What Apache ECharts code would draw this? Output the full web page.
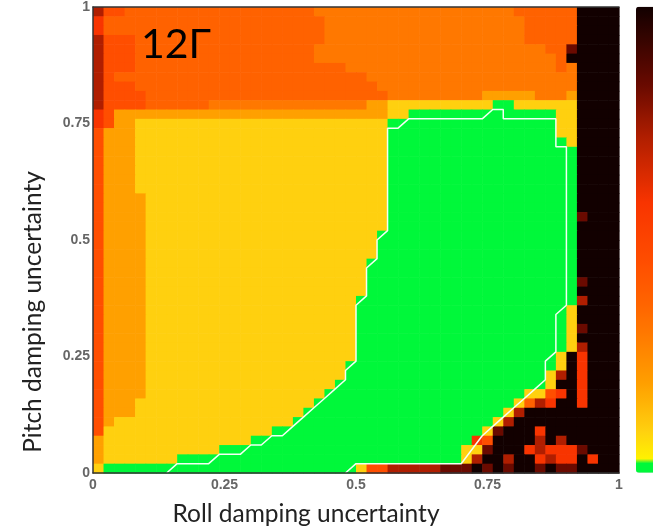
<!DOCTYPE html>
<html>
<head>
<meta charset="utf-8">
<title>12Γ roll / pitch damping uncertainty</title>
<script src="https://cdn.jsdelivr.net/npm/echarts@6/dist/echarts.min.js"></script>
<style>
  html, body { margin: 0; padding: 0; background: #fff; }
  #chart { width: 653px; height: 529px; }
</style>
</head>
<body>
<div id="chart"></div>
<script>
// tick labels of both axes
const xTicks = [0, 0.25, 0.5, 0.75, 1]
const yTicks = [0, 0.25, 0.5, 0.75, 1]
// colour levels seen in the map, value = position on the colorbar (0 green ... 1 black)
const levelCodes = ['g', 'y', 'o', 'O', 'p', 'r', 'R', 'd', 'D', 'k']
const levelValues = [0, 0.09, 0.19, 0.30, 0.37, 0.45, 0.58, 0.72, 0.83, 1]
// colorbar stops (bottom -> top)
const cmapPos = [0, 0.022, 0.03, 0.09, 0.19, 0.30, 0.37, 0.45, 0.58, 0.72, 0.83, 1]
const cmapColor = ['#00f83a', '#00f83a', '#fff200', '#ffd00f', '#ffa000', '#ff7800', '#ff6200', '#ff4e00', '#f83400', '#b01e00', '#6a0a00', '#120000']
// 50 x 50 cells, rows from pitch = 1 (top) down to 0, run-length coded per row
const gridRows = [
  'd1 r2 p18 O19 p6 k4',
  'R1 p21 O19 p5 k4',
  'R1 p21 O19 p5 k4',
  'd1 r3 p18 O19 p5 k4',
  'd1 r3 p17 O22 p2 D1 k4',
  'd1 r3 p17 O23 p1 k5',
  'd1 r3 p20 O20 p1 O1 k4',
  'd1 r1 p24 O20 k4',
  'd1 r3 p23 O19 k4',
  'd1 r4 p23 O9 o5 O3 o1 k4',
  'd1 r4 p6 O15 o2 y10 g2 y6 k4',
  'R1 r1 o26 y2 g14 y2 k4',
  'R1 r1 o2 y24 g16 y2 k4',
  'r1 o3 y24 g16 y2 k4',
  'r1 o3 y24 g17 y1 k4',
  'r1 o3 y24 g18 k4',
  'r1 o3 y24 g18 k4',
  'r1 o3 y24 g18 k4',
  'r1 o3 y24 g18 k4',
  'r1 o3 y24 g18 k4',
  'r1 o4 y23 g18 k4',
  'r1 o4 y23 g18 k4',
  'r1 o4 y23 g18 D1 k3',
  'r1 o4 y23 g18 k4',
  'r1 o4 y22 g19 k4',
  'r1 o4 y22 g19 k4',
  'r1 o4 y22 g19 k4',
  'r1 o4 y21 g20 k4',
  'r1 o4 y21 g20 k4',
  'r1 o4 y21 g20 D1 k3',
  'r1 o4 y21 g20 k4',
  'r1 o4 y20 g21 d1 k3',
  'r1 o4 y20 g20 y1 k4',
  'r1 o4 y20 g20 y1 k4',
  'r1 o4 y20 g20 y1 D1 k3',
  'r1 o4 y20 g20 y1 k4',
  'r1 o4 y20 g20 y1 d1 k3',
  'r1 o4 y20 g19 y1 k1 R1 k3',
  'r1 o4 y19 g20 y1 k1 R1 k3',
  'r1 o4 y19 g19 y1 d1 k1 R1 k3',
  'r1 o4 y18 g20 y1 k2 R1 k3',
  'r1 o4 y17 g19 y2 r1 R1 k1 R1 k3',
  'r1 o3 y17 g19 y1 p1 d1 R1 k2 R1 k3',
  'r1 o3 y16 g19 y1 d1 k9',
  'r1 o1 y17 g19 y1 d1 k10',
  'r1 y16 g20 y1 D1 k3 R1 k7',
  'o1 y14 g21 R1 r1 k4 d1 k1 d1 k5',
  'o1 y11 g23 y2 D1 k3 R1 d1 R3 D1 k3',
  'o1 y7 g27 y1 d1 k2 d1 k2 R1 d1 R2 k1 R1 k2',
  'y1 g24 y1 r2 d5 D3 k1 D1 k1 D1 k2 D1 k1 D2 k4'
]
// white boundary line
const contourX = [0.14, 0.16, 0.22, 0.24, 0.28, 0.30, 0.32, 0.34, 0.36, 0.38, 0.40, 0.42, 0.44, 0.46, 0.48, 0.48, 0.50, 0.50, 0.52, 0.52, 0.54, 0.54, 0.56, 0.56, 0.58, 0.60, 0.74, 0.76, 0.78, 0.78, 0.88, 0.88, 0.90, 0.90, 0.88, 0.88, 0.86, 0.86, 0.84, 0.82, 0.80, 0.78, 0.76, 0.74, 0.70, 0.50, 0.48]
const contourY = [0, 0.02, 0.02, 0.04, 0.04, 0.06, 0.06, 0.08, 0.08, 0.10, 0.12, 0.14, 0.16, 0.18, 0.20, 0.22, 0.24, 0.36, 0.38, 0.44, 0.46, 0.50, 0.52, 0.74, 0.74, 0.76, 0.76, 0.78, 0.78, 0.76, 0.76, 0.70, 0.70, 0.36, 0.34, 0.26, 0.24, 0.20, 0.18, 0.16, 0.14, 0.12, 0.10, 0.08, 0.02, 0.02, 0]

const cell = 0.02
const nRows = gridRows.length

// decode the rows into [x, y, value]
const cells = []
gridRows.forEach((row, r) => {
  let c = 0
  row.split(' ').forEach(run => {
    const v = levelValues[levelCodes.indexOf(run[0])]
    const n = parseInt(run.slice(1))
    for (let i = 0; i < n; i++) {
      cells.push([c * cell, (nRows - 1 - r) * cell, v])
      c++
    }
  })
  if (c !== 50) console.warn('row', r, 'has', c, 'cells')
})

// colormap sampled every 0.01 for the visualMap
const hex = h => [1, 3, 5].map(i => parseInt(h.slice(i, i + 2), 16))
const cmap = []
for (let i = 0; i <= 100; i++) {
  const f = i / 100
  let k = 0
  while (k < cmapPos.length - 2 && f > cmapPos[k + 1]) k++
  const t = Math.min(1, Math.max(0, (f - cmapPos[k]) / (cmapPos[k + 1] - cmapPos[k])))
  const a = hex(cmapColor[k]), b = hex(cmapColor[k + 1])
  cmap.push('rgb(' + a.map((x, j) => Math.round(x + (b[j] - x) * t)).join(',') + ')')
}

const myChart = echarts.init(document.getElementById('chart'))
const labelStyle = { color: '#666', fontSize: 14, fontWeight: 'bold', fontFamily: 'Liberation Sans' }
const option = {
  animation: false,
  grid: { left: 93, top: 6.7, width: 526, height: 466.3 },
  xAxis: [
    {
      type: 'value', min: 0, max: 1, interval: 0.25, z: 10,
      axisLine: { lineStyle: { color: '#333', width: 1.5 } },
      axisTick: { show: false },
      splitLine: { show: false },
      axisLabel: { ...labelStyle, margin: 5, formatter: v => xTicks.indexOf(v) >= 0 ? String(v) : '' }
    },
    {
      type: 'value', position: 'top', min: 0, max: 1, z: 10,
      axisLine: { lineStyle: { color: '#333', width: 1.5 } },
      axisTick: { show: false }, axisLabel: { show: false }, splitLine: { show: false }
    }
  ],
  yAxis: {
    type: 'value', min: 0, max: 1, interval: 0.25, z: 10,
    axisLine: { lineStyle: { color: '#333', width: 1.5 } },
    axisTick: { show: false },
    splitLine: { show: false },
    axisLabel: { ...labelStyle, margin: 3, formatter: v => yTicks.indexOf(v) >= 0 ? String(v) : '' }
  },
  visualMap: {
    type: 'continuous',
    seriesIndex: 0,
    dimension: 2,
    min: 0,
    max: 1,
    calculable: false,
    left: 636,
    top: 6.7,
    padding: 0,
    itemWidth: 20,
    itemHeight: 466,
    inRange: { color: cmap }
  },
  graphic: [
    {
      type: 'text', left: 141, top: 24, z: 20,
      style: { text: '12Γ', fill: '#000', font: '41px Lato' }
    },
    {
      type: 'text', x: 306, y: 514, z: 20,
      style: { text: 'Roll damping uncertainty', fill: '#222', font: '24.5px Lato', align: 'center', verticalAlign: 'middle' }
    },
    {
      type: 'text', x: 33, y: 312, rotation: Math.PI / 2, z: 20,
      style: { text: 'Pitch damping uncertainty', fill: '#222', font: '24.5px Lato', align: 'center', verticalAlign: 'middle' }
    }
  ],
  series: [
    {
      type: 'custom',
      data: cells,
      encode: { x: 0, y: 1 },
      renderItem: function (params, api) {
        const p = api.coord([api.value(0), api.value(1) + cell])
        const s = api.size([cell, cell])
        return {
          type: 'rect',
          shape: { x: p[0], y: p[1], width: s[0] + 0.6, height: s[1] + 0.6 },
          style: { fill: api.visual('color') }
        }
      }
    },
    {
      type: 'line',
      data: contourX.map((x, i) => [x, contourY[i]]),
      showSymbol: false,
      z: 5,
      lineStyle: { color: '#f4fff4', width: 1.5 }
    }
  ]
}
myChart.setOption(option)
</script>
</body>
</html>
